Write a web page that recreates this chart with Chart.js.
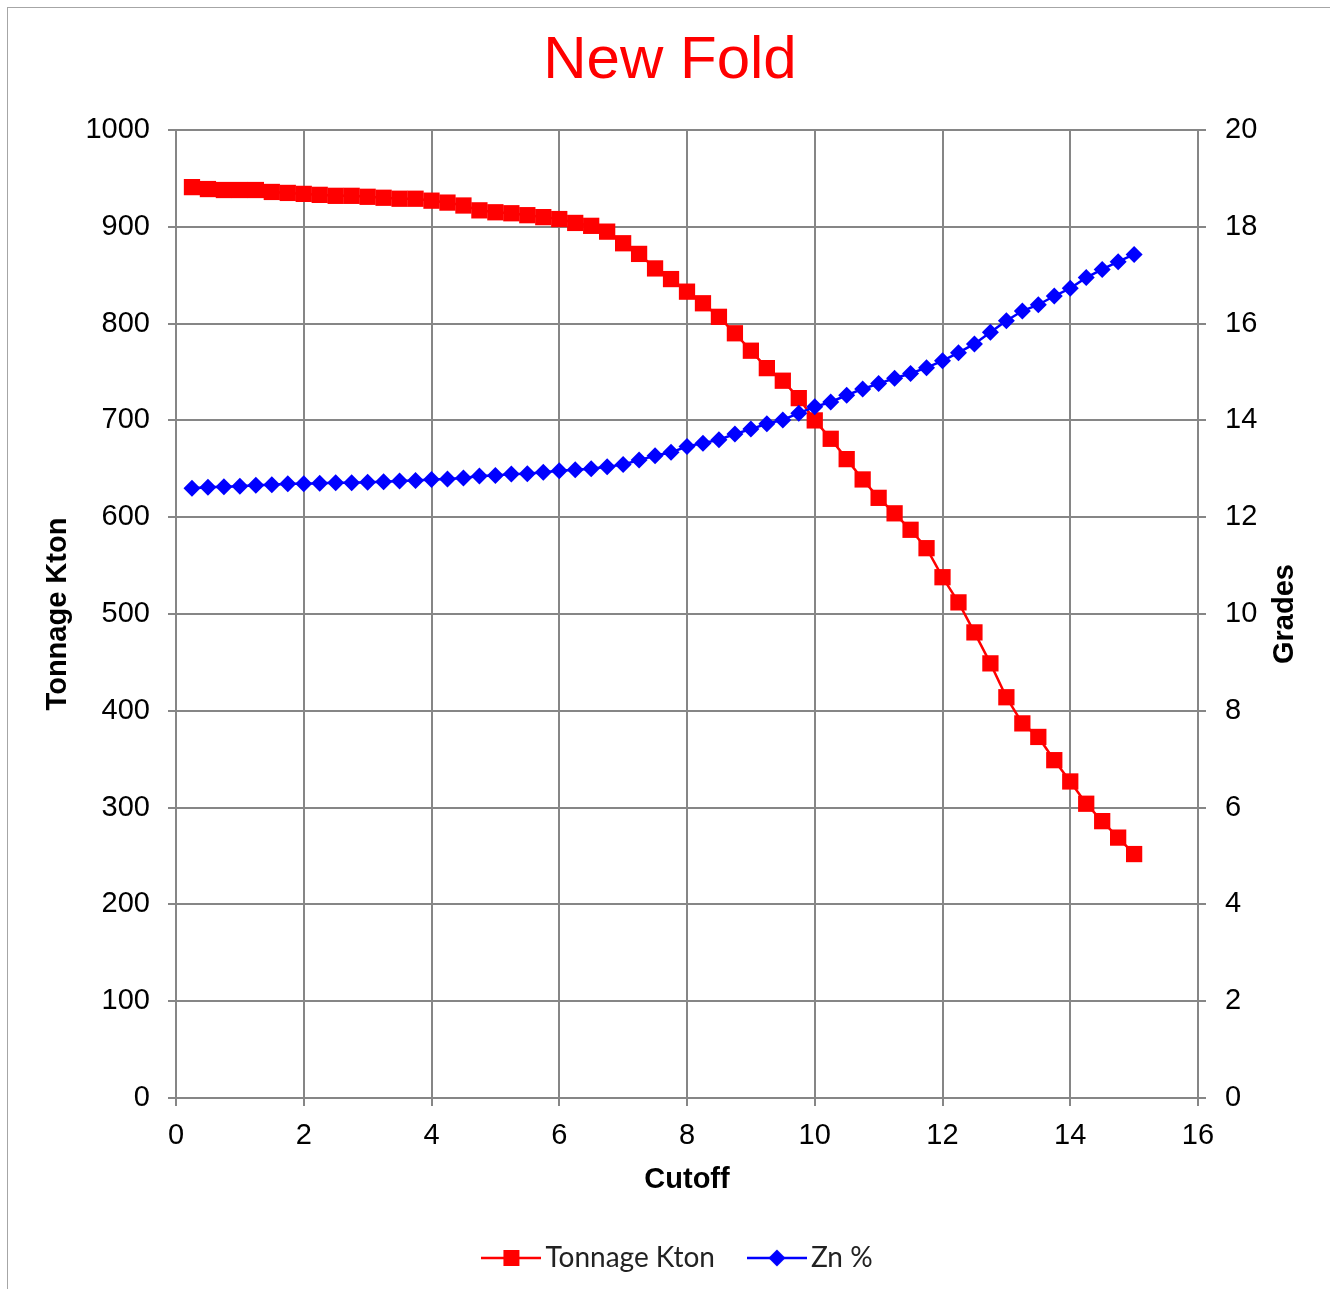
<!DOCTYPE html>
<html>
<head>
<meta charset="utf-8">
<title>New Fold</title>
<script src="https://cdn.jsdelivr.net/npm/chart.js@4.4.0/dist/chart.umd.min.js"></script>
<style>
  html, body { margin: 0; padding: 0; background: #fff; overflow: hidden; }
  #wrap { position: relative; width: 1330px; height: 1289px; }
  #myChart { position: absolute; left: 0; top: 0; }
  #frame { position: absolute; left: 7px; top: 7px; width: 1340px; height: 1300px;
           border-top: 1px solid #a6a6a6; border-left: 1px solid #a6a6a6; pointer-events: none; }
</style>
</head>
<body>
<div id="wrap">
  <canvas id="myChart" width="1330" height="1289"></canvas>
  <div id="frame"></div>
</div>
<script>
// cutoff grade (x) and the two series read per cutoff
var cutoff = [0.25, 0.5, 0.75, 1, 1.25, 1.5, 1.75, 2, 2.25, 2.5, 2.75, 3, 3.25, 3.5, 3.75,
  4, 4.25, 4.5, 4.75, 5, 5.25, 5.5, 5.75, 6, 6.25, 6.5, 6.75, 7, 7.25, 7.5, 7.75,
  8, 8.25, 8.5, 8.75, 9, 9.25, 9.5, 9.75, 10, 10.25, 10.5, 10.75, 11, 11.25, 11.5, 11.75,
  12, 12.25, 12.5, 12.75, 13, 13.25, 13.5, 13.75, 14, 14.25, 14.5, 14.75, 15];

var tonnage = [941, 939, 938, 938, 938, 936, 935, 934, 933, 932, 932, 931, 930, 929, 929,
  927, 925, 922, 917, 915, 914, 912, 910, 908, 904, 901, 895, 883, 872, 857, 846,
  833, 821, 807, 790, 772, 754, 741, 723, 700, 681, 660, 639, 620, 604, 587, 568,
  538, 512, 481, 449, 414, 387, 373, 349, 327, 304, 286, 269, 252];

var znGrade = [12.60, 12.62, 12.63, 12.64, 12.66, 12.67, 12.69, 12.69, 12.70, 12.71, 12.71, 12.72, 12.73, 12.75, 12.76,
  12.78, 12.79, 12.81, 12.85, 12.86, 12.89, 12.90, 12.93, 12.96, 12.98, 13.00, 13.04, 13.09, 13.18, 13.27, 13.34,
  13.46, 13.53, 13.60, 13.72, 13.82, 13.93, 14.01, 14.15, 14.28, 14.38, 14.52, 14.65, 14.76, 14.87, 14.97, 15.09,
  15.23, 15.40, 15.58, 15.82, 16.06, 16.26, 16.39, 16.57, 16.73, 16.95, 17.12, 17.28, 17.43];

var seriesNames = ['Tonnage Kton', 'Zn %'];
var seriesColors = ['#ff0000', '#0000ff'];

const GRID = '#868686';
const TICK_FONT = { family: '"Liberation Sans", Arial, sans-serif', size: 29 };
const TITLE_FONT = { family: '"Liberation Sans", Arial, sans-serif', size: 29, weight: 'bold' };

function toPoints(values) {
  var pts = [];
  for (var i = 0; i < cutoff.length; i++) {
    pts.push({ x: cutoff[i], y: values[i] });
  }
  return pts;
}

// plain numbers on the axes, no thousands separator
function plainTick(value) {
  return String(value);
}

// small line + marker swatch, like the series itself
function legendSwatch(color, shape) {
  var c = document.createElement('canvas');
  c.width = 60;
  c.height = 26;
  var g = c.getContext('2d');
  g.strokeStyle = color;
  g.lineWidth = 2.5;
  g.beginPath();
  g.moveTo(0, 13);
  g.lineTo(60, 13);
  g.stroke();
  g.fillStyle = color;
  if (shape === 'rect') {
    g.fillRect(22, 5, 16, 16);
  } else {
    g.beginPath();
    g.moveTo(30, 4.5);
    g.lineTo(38.5, 13);
    g.lineTo(30, 21.5);
    g.lineTo(21.5, 13);
    g.closePath();
    g.fill();
  }
  return c;
}

var swatches = [legendSwatch(seriesColors[0], 'rect'), legendSwatch(seriesColors[1], 'diamond')];

// right axis title reads bottom-to-top, same as the left one
var rightTitlePlugin = {
  id: 'rightTitle',
  afterDraw: function(chart) {
    var ctx = chart.ctx;
    var area = chart.chartArea;
    ctx.save();
    ctx.translate(chart.scales.y1.right - 35, (area.top + area.bottom) / 2);
    ctx.rotate(-Math.PI / 2);
    ctx.font = 'bold 29px "Liberation Sans", Arial, sans-serif';
    ctx.fillStyle = '#000';
    ctx.textAlign = 'center';
    ctx.textBaseline = 'middle';
    ctx.fillText('Grades', 0, 0);
    ctx.restore();
  }
};

// legend centring counts the trailing padding, nudge it back to the middle
var legendNudgePlugin = {
  id: 'legendNudge',
  afterLayout: function(chart) {
    chart.legend.left += 12;
    chart.legend.right += 12;
  }
};

var ctx = document.getElementById('myChart').getContext('2d');
var myChart = new Chart(ctx, {
  type: 'line',
  data: {
    datasets: [
      {
        label: seriesNames[0],
        data: toPoints(tonnage),
        yAxisID: 'y',
        borderColor: seriesColors[0],
        backgroundColor: seriesColors[0],
        borderWidth: 2.5,
        pointStyle: 'rect',
        pointRadius: 11.5,
        pointBorderWidth: 0,
        order: 1
      },
      {
        label: seriesNames[1],
        data: toPoints(znGrade),
        yAxisID: 'y1',
        borderColor: seriesColors[1],
        backgroundColor: seriesColors[1],
        borderWidth: 2.5,
        pointStyle: 'rectRot',
        pointRadius: 8.5,
        pointBorderWidth: 0,
        order: 0
      }
    ]
  },
  plugins: [rightTitlePlugin, legendNudgePlugin],
  options: {
    responsive: false,
    devicePixelRatio: 1,
    animation: false,
    layout: { padding: { left: 20, right: 10, top: 15, bottom: 7 } },
    plugins: {
      title: {
        display: true,
        text: 'New Fold',
        color: '#ff0000',
        font: { family: '"Liberation Sans", Arial, sans-serif', size: 60, weight: 'normal' },
        padding: { top: 10, bottom: 33 }
      },
      legend: {
        position: 'bottom',
        labels: {
          usePointStyle: true,
          pointStyleWidth: 40,
          padding: 42,
          color: '#222',
          font: { family: 'Lato, "Open Sans", sans-serif', size: 28 },
          sort: function(a, b) { return a.datasetIndex - b.datasetIndex; },
          generateLabels: function(chart) {
            var items = Chart.defaults.plugins.legend.labels.generateLabels(chart);
            items.forEach(function(item) {
              item.pointStyle = swatches[item.datasetIndex];
            });
            return items;
          }
        }
      },
      tooltip: { enabled: false }
    },
    scales: {
      x: {
        type: 'linear',
        min: 0,
        max: 16,
        ticks: { stepSize: 2, color: '#000', font: TICK_FONT, padding: 13, callback: plainTick },
        grid: { color: GRID, lineWidth: 2, tickLength: 8, tickColor: GRID },
        border: { color: GRID, width: 2 },
        title: { display: true, text: 'Cutoff', color: '#000', font: TITLE_FONT, padding: { top: 0, bottom: 5 } },
        afterFit: function(scale) { scale.height = 104; }
      },
      y: {
        position: 'left',
        min: 0,
        max: 1000,
        ticks: { stepSize: 100, color: '#000', font: TICK_FONT, padding: 18, callback: plainTick },
        grid: { color: GRID, lineWidth: 2, tickLength: 8, tickColor: GRID },
        border: { color: GRID, width: 2 },
        title: { display: true, text: 'Tonnage Kton', color: '#000', font: TITLE_FONT, padding: { top: 21, bottom: 0 } },
        afterFit: function(scale) { scale.width = 156; }
      },
      y1: {
        position: 'right',
        min: 0,
        max: 20,
        ticks: { stepSize: 2, color: '#000', font: TICK_FONT, padding: 19, callback: plainTick },
        grid: { drawOnChartArea: false, lineWidth: 2, tickLength: 8, color: GRID },
        border: { color: GRID, width: 2 },
        afterFit: function(scale) { scale.width = 122; }
      }
    }
  }
});
</script>
</body>
</html>
